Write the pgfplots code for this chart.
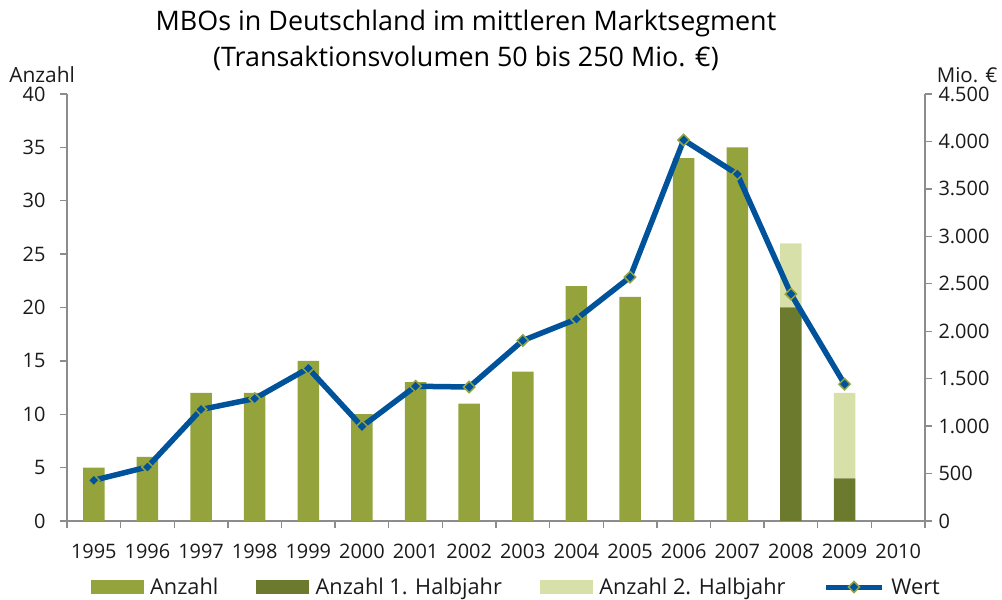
\documentclass[border=0pt]{standalone}
\usepackage{fontspec}
\setmainfont{Open Sans}
\usepackage{pgfplots}
\pgfplotsset{compat=1.18}
\definecolor{barA}{HTML}{94A33C}
\definecolor{barB}{HTML}{6C7A2D}
\definecolor{barC}{HTML}{D8E0AA}
\definecolor{lineB}{HTML}{00539B}
\definecolor{axgray}{HTML}{8C8C8C}
\definecolor{txt}{HTML}{1A1A1A}
\newcommand{\tfont}{\fontsize{20}{23}\selectfont}
\newcommand{\lfont}{\fontsize{21.8}{24}\selectfont}
\begin{document}
\begin{tikzpicture}[x=1bp,y=1bp]
\path[use as bounding box] (0,0) rectangle (1002,600);
\begin{axis}[
  at={(67bp,79bp)}, anchor=south west,
  scale only axis, width=858bp, height=427bp,
  xmin=-0.5, xmax=15.5, ymin=0, ymax=40,
  ybar stacked, bar width=21.5bp,
  axis x line*=bottom, axis y line*=left,
  axis line style={axgray, line width=1.8bp, -},
  tick align=outside,
  tick style={axgray, line width=1.3bp},
  major tick length=7bp, minor tick length=7bp,
  xtick={0,...,15},
  xticklabels={1995,1996,1997,1998,1999,2000,2001,2002,2003,2004,2005,2006,2007,2008,2009,2010},
  major x tick style={draw=none},
  minor xtick={-0.5,0.5,...,15.5},
  ytick={0,5,...,40},
  /pgf/number format/assume math mode=true,
  tick label style={font=\tfont, text=txt},
  xticklabel style={yshift=-13bp},
  yticklabel style={xshift=-11bp},
  clip=false,
]
\addplot[fill=barA, draw=none] coordinates {(0,5) (1,6) (2,12) (3,12) (4,15) (5,10) (6,13) (7,11) (8,14) (9,22) (10,21) (11,34) (12,35) (13,0) (14,0)};
\addplot[fill=barB, draw=none] coordinates {(0,0) (1,0) (2,0) (3,0) (4,0) (5,0) (6,0) (7,0) (8,0) (9,0) (10,0) (11,0) (12,0) (13,20) (14,4)};
\addplot[fill=barC, draw=none] coordinates {(0,0) (1,0) (2,0) (3,0) (4,0) (5,0) (6,0) (7,0) (8,0) (9,0) (10,0) (11,0) (12,0) (13,6) (14,8)};
\node[font=\fontsize{21}{24}\selectfont, text=txt] at (axis description cs:-0.029,1.045) {Anzahl};
\node[font=\fontsize{20.5}{24}\selectfont, text=txt] at (axis description cs:1.049,1.045) {Mio. €};
\node[font=\fontsize{27}{36}\selectfont, text=black, align=center] at (axis description cs:0.465,1.126) {MBOs in Deutschland im mittleren Marktsegment\\(Transaktionsvolumen 50 bis 250 Mio. €)};
\end{axis}
\begin{axis}[
  at={(67bp,79bp)}, anchor=south west,
  scale only axis, width=858bp, height=427bp,
  xmin=-0.5, xmax=15.5, ymin=0, ymax=4500,
  axis x line=none, axis y line*=right,
  axis line style={axgray, line width=1.8bp, -},
  tick align=outside,
  tick style={axgray, line width=1.3bp},
  major tick length=7bp,
  ytick={0,500,1000,1500,2000,2500,3000,3500,4000,4500},
  yticklabels={0,500,1.000,1.500,2.000,2.500,3.000,3.500,4.000,4.500},
  tick label style={font=\tfont, text=txt},
  yticklabel style={xshift=3bp},
  clip=false,
  legend columns=4,
  legend style={at={(axis description cs:0.5225,-0.1546)}, anchor=center, draw=none, fill=none,
    font=\lfont, text=txt, inner sep=0pt,
    nodes={inner sep=0bp},
    /tikz/every odd column/.append style={column sep=7bp},
    /tikz/every even column/.append style={column sep=38bp}},
  legend cell align=left,
]
\addlegendimage{legend image code/.code={\fill[barA] (0bp,-6.5bp) rectangle (52bp,6.5bp);}}
\addlegendentry{Anzahl}
\addlegendimage{legend image code/.code={\fill[barB] (0bp,-6.5bp) rectangle (52bp,6.5bp);}}
\addlegendentry{Anzahl 1. Halbjahr}
\addlegendimage{legend image code/.code={\fill[barC] (0bp,-6.5bp) rectangle (52bp,6.5bp);}}
\addlegendentry{Anzahl 2. Halbjahr}
\addplot[lineB, line width=5.5bp, mark=square*, mark size=4bp,
  mark options={fill=lineB, draw=barA, line width=1.5bp, rotate=45},
  legend image code/.code={\draw[lineB, line width=5bp] (0bp,0bp) -- (56bp,0bp);
    \draw[barA, fill=lineB, line width=1.5bp] (28bp,-5.5bp) -- (33.5bp,0bp) -- (28bp,5.5bp) -- (22.5bp,0bp) -- cycle;}]
 coordinates {(0,429) (1,569) (2,1175) (3,1290) (4,1609) (5,996) (6,1420) (7,1412) (8,1902) (9,2128) (10,2570) (11,4015) (12,3655) (13,2392) (14,1442)};
\addlegendentry{Wert}
\end{axis}
\end{tikzpicture}
\end{document}
